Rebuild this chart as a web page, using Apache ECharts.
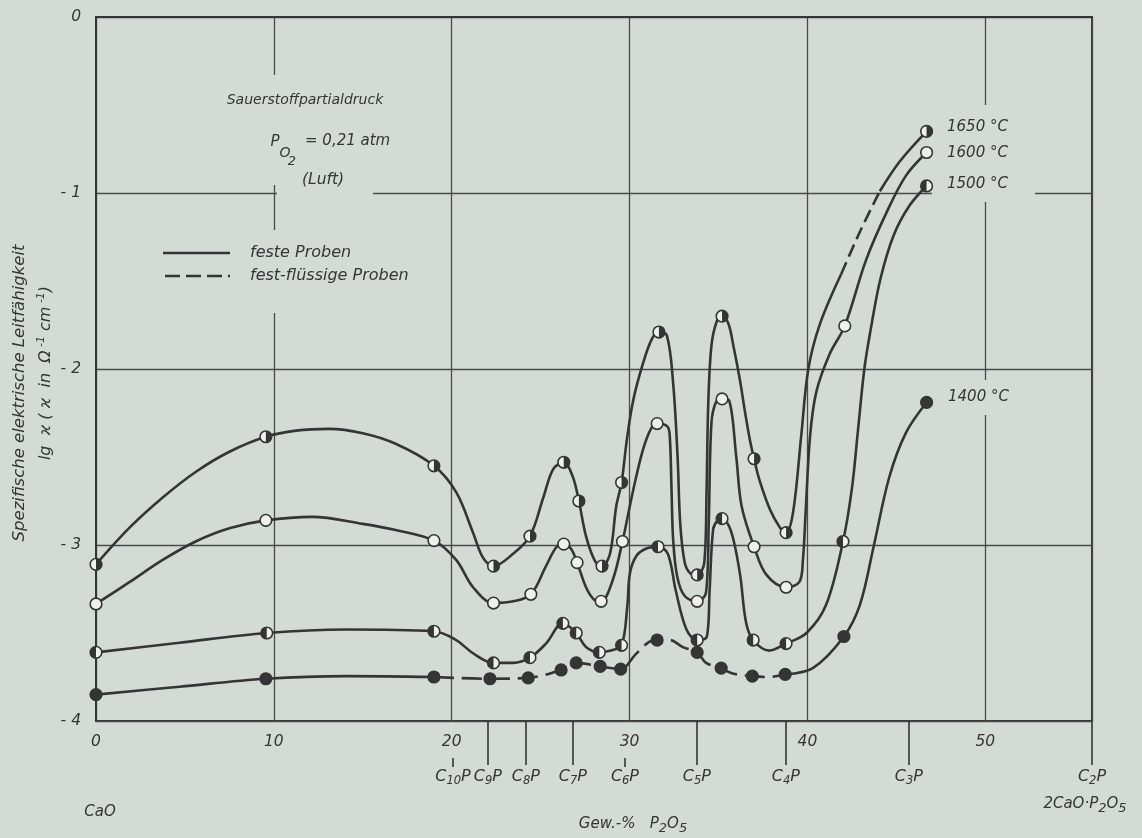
<!DOCTYPE html>
<html>
<head>
<meta charset="utf-8">
<script src="https://cdn.jsdelivr.net/npm/echarts@6/dist/echarts.min.js"></script>
<style>
  html, body { margin: 0; padding: 0; background: #d3dbd4; }
  #chart { width: 1142px; height: 838px; }
</style>
</head>
<body>
<div id="chart"></div>
<script>
// Messpunkte je Temperatur: [Gew.-% P2O5, lg kappa]
const punkte1650 = [[0, -3.11], [9.55, -2.385], [19.0, -2.55], [22.35, -3.12], [24.4, -2.95], [26.3, -2.53], [27.15, -2.75], [28.45, -3.12], [29.55, -2.645], [31.65, -1.79], [33.8, -3.17], [35.2, -1.70], [37.0, -2.51], [38.8, -2.93], [46.7, -0.65]];
const punkte1600 = [[0, -3.335], [9.55, -2.86], [19.0, -2.975], [22.35, -3.33], [24.45, -3.28], [26.3, -2.995], [27.05, -3.10], [28.4, -3.32], [29.6, -2.98], [31.55, -2.31], [33.8, -3.32], [35.2, -2.17], [37.0, -3.01], [38.8, -3.24], [42.1, -1.755], [46.7, -0.77]];
const punkte1500 = [[0, -3.61], [9.6, -3.50], [19.0, -3.49], [22.35, -3.67], [24.4, -3.64], [26.25, -3.445], [27.0, -3.50], [28.3, -3.61], [29.55, -3.57], [31.6, -3.01], [33.8, -3.54], [35.2, -2.85], [36.95, -3.54], [38.8, -3.56], [42.0, -2.98], [46.7, -0.96]];
const punkte1400 = [[0, -3.85], [9.55, -3.76], [19.0, -3.75], [22.15, -3.76], [24.3, -3.755], [26.15, -3.71], [27.0, -3.67], [28.35, -3.69], [29.5, -3.705], [31.55, -3.54], [33.8, -3.61], [35.15, -3.70], [36.9, -3.745], [38.75, -3.735], [42.05, -3.52], [46.7, -2.19]];

// Stützstellen des gezeichneten Kurvenverlaufs zwischen den Messpunkten
const verlauf1650 = [[1.9, -2.90], [3.75, -2.73], [5.6, -2.585], [7.5, -2.47], [11.25, -2.35], [13.1, -2.34], [15.0, -2.365], [16.85, -2.425], [20.25, -2.70], [21.2, -2.93], [21.75, -3.07], [23.45, -3.05], [25.15, -2.73], [25.7, -2.57], [26.8, -2.61], [27.55, -2.95], [28.05, -3.09], [28.9, -3.05], [29.25, -2.78], [29.85, -2.40], [30.2, -2.18], [30.75, -1.97], [31.25, -1.83], [32.1, -1.81], [32.45, -2.08], [32.7, -2.50], [32.85, -2.88], [33.1, -3.10], [33.4, -3.16], [34.2, -3.10], [34.33, -2.69], [34.42, -2.21], [34.6, -1.87], [34.9, -1.73], [35.55, -1.74], [35.85, -1.875], [36.2, -2.06], [36.5, -2.25], [36.76, -2.40], [37.3, -2.63], [37.9, -2.80], [38.45, -2.90], [39.2, -2.81], [39.65, -2.38], [40.05, -2.0], [40.7, -1.745], [41.9, -1.46], [42.95, -1.22], [44.07, -0.99], [45.2, -0.82]];
const verlauf1600 = [[1.9, -3.21], [3.75, -3.085], [5.6, -2.98], [7.5, -2.905], [12.15, -2.84], [15.0, -2.88], [16.85, -2.915], [20.25, -3.085], [21.2, -3.24], [23.45, -3.32], [25.3, -3.12], [25.9, -3.01], [26.7, -3.02], [27.55, -3.24], [28.0, -3.31], [29.05, -3.20], [30.2, -2.69], [30.75, -2.46], [31.2, -2.34], [32.15, -2.33], [32.27, -2.40], [32.36, -2.69], [32.45, -2.97], [32.68, -3.18], [33.1, -3.29], [34.3, -3.27], [34.45, -2.88], [34.6, -2.31], [34.85, -2.19], [35.6, -2.18], [36.0, -2.50], [36.3, -2.78], [37.7, -3.17], [39.55, -3.21], [39.75, -3.08], [39.9, -2.81], [40.15, -2.38], [40.5, -2.13], [41.25, -1.915], [43.3, -1.38], [44.45, -1.11], [45.55, -0.90]];
const verlauf1500 = [[4.7, -3.555], [14.05, -3.48], [20.25, -3.54], [21.2, -3.615], [23.45, -3.67], [25.3, -3.56], [27.55, -3.58], [28.95, -3.60], [29.87, -3.35], [30.02, -3.16], [30.4, -3.06], [30.95, -3.02], [32.15, -3.05], [32.6, -3.26], [33.2, -3.48], [34.35, -3.52], [34.5, -3.26], [34.7, -2.91], [34.95, -2.86], [35.7, -2.92], [36.2, -3.16], [36.55, -3.44], [37.85, -3.60], [39.95, -3.50], [41.05, -3.34], [42.5, -2.68], [42.85, -2.34], [43.2, -2.0], [43.55, -1.78], [44.1, -1.49], [44.85, -1.24], [45.75, -1.07]];
const verlauf1400 = [[4.7, -3.805], [14.05, -3.745], [30.35, -3.62], [31.1, -3.55], [32.25, -3.54], [33.0, -3.58], [34.3, -3.67], [35.8, -3.73], [37.85, -3.75], [40.3, -3.70], [42.95, -3.34], [43.7, -3.02], [44.6, -2.615], [45.55, -2.36]];

// fest-flüssige Bereiche (gestrichelt), von .. bis Gew.-% P2O5
const gestrichelt1650 = [41.9, 44.07];
const gestrichelt1400 = [19.0, 38.75];

// Achsen
const xWerte = [0, 10, 20, 30, 40, 50];
const yWerte = [0, -1, -2, -3, -4];
const verbindungsIndex = ['10', '9', '8', '7', '6', '5', '4', '3', '2'];
const verbindungsLage = [20.07, 22.03, 24.17, 26.81, 29.74, 33.78, 38.79, 45.70, 56.0];
const kurzeStriche = ['10', '6'];

const HINTERGRUND = '#d3dbd4';
const TINTE = '#353535';
const LINIE = '#4a4a4a';
const WEISS = '#eef1ec';
const SCHRIFT = "'DejaVu Sans', 'Liberation Sans', sans-serif";

const temperaturen = [
  { name: '1650 °C', punkte: punkte1650, verlauf: verlauf1650, strich: gestrichelt1650, muster: [13, 6], fuellung: 'rechts' },
  { name: '1600 °C', punkte: punkte1600, verlauf: verlauf1600, strich: null, muster: null, fuellung: 'offen' },
  { name: '1500 °C', punkte: punkte1500, verlauf: verlauf1500, strich: null, muster: null, fuellung: 'links' },
  { name: '1400 °C', punkte: punkte1400, verlauf: verlauf1400, strich: gestrichelt1400, muster: [20, 8], fuellung: 'voll' }
];

function kurve(punkte, verlauf) {
  return punkte.concat(verlauf).sort((a, b) => a[0] - b[0]);
}

function abschnitte(daten, strich) {
  if (!strich) return [{ daten, gestrichelt: false }];
  const [a, b] = strich;
  return [
    { daten: daten.filter(p => p[0] <= a), gestrichelt: false },
    { daten: daten.filter(p => p[0] >= a && p[0] <= b), gestrichelt: true },
    { daten: daten.filter(p => p[0] >= b), gestrichelt: false }
  ];
}

function markerSerie(t) {
  return {
    type: 'custom',
    name: t.name,
    z: 4,
    data: t.punkte,
    renderItem(params, api) {
      const p = api.coord([api.value(0), api.value(1)]);
      const r = 5.8;
      const kinder = [{
        type: 'circle',
        shape: { cx: p[0], cy: p[1], r },
        style: { fill: t.fuellung === 'voll' ? TINTE : WEISS, stroke: TINTE, lineWidth: 1.6 }
      }];
      if (t.fuellung === 'rechts' || t.fuellung === 'links') {
        const s = t.fuellung === 'rechts' ? -Math.PI / 2 : Math.PI / 2;
        kinder.push({
          type: 'sector',
          shape: { cx: p[0], cy: p[1], r: r, r0: 0, startAngle: s, endAngle: s + Math.PI, clockwise: true },
          style: { fill: TINTE }
        });
      }
      return { type: 'group', children: kinder };
    }
  };
}

const serien = [];
temperaturen.forEach(t => {
  abschnitte(kurve(t.punkte, t.verlauf), t.strich).forEach(ab => {
    serien.push({
      type: 'line',
      name: t.name,
      data: ab.daten,
      smooth: 0.35,
      showSymbol: false,
      silent: true,
      z: 2,
      lineStyle: { color: TINTE, width: 2.6, type: ab.gestrichelt ? t.muster : 'solid' }
    });
  });
  serien.push(markerSerie(t));
});

const txt = (extra) => Object.assign({ fill: TINTE, fontFamily: SCHRIFT, fontStyle: 'italic' }, extra);
const luecke = (x, y, w, h) => ({ type: 'rect', z: 1, shape: { x, y, width: w, height: h }, style: { fill: HINTERGRUND } });

const grafik = [
  // Aussparungen im Gitter hinter den Beschriftungen
  luecke(230, 75, 155, 110),
  luecke(277, 186, 96, 14),
  luecke(150, 230, 295, 83),
  luecke(932, 105, 103, 97),
  luecke(940, 380, 90, 35),

  // Angaben zur Atmosphäre
  { type: 'text', z: 10, x: 305, y: 100, style: txt({ text: 'Sauerstoffpartialdruck', fontSize: 14, align: 'center', verticalAlign: 'middle' }) },
  { type: 'text', z: 10, x: 275, y: 142, style: txt({ text: 'P', fontSize: 15, align: 'center', verticalAlign: 'middle' }) },
  { type: 'text', z: 10, x: 285, y: 153, style: txt({ text: 'O', fontSize: 14, align: 'center', verticalAlign: 'middle' }) },
  { type: 'text', z: 10, x: 292, y: 162, style: txt({ text: '2', fontSize: 13, align: 'center', verticalAlign: 'middle' }) },
  { type: 'text', z: 10, x: 305, y: 141, style: txt({ text: '= 0,21 atm', fontSize: 15, align: 'left', verticalAlign: 'middle' }) },
  { type: 'text', z: 10, x: 323, y: 180, style: txt({ text: '(Luft)', fontSize: 15.5, align: 'center', verticalAlign: 'middle' }) },

  // Legende
  { type: 'line', z: 10, shape: { x1: 163, y1: 253, x2: 230, y2: 253 }, style: { stroke: TINTE, lineWidth: 2.6 } },
  { type: 'line', z: 10, shape: { x1: 165, y1: 276, x2: 230, y2: 276 }, style: { stroke: TINTE, lineWidth: 2.6, lineDash: [15, 6] } },
  { type: 'text', z: 10, x: 250, y: 253, style: txt({ text: 'feste Proben', fontSize: 16, align: 'left', verticalAlign: 'middle' }) },
  { type: 'text', z: 10, x: 250, y: 276, style: txt({ text: 'fest-flüssige Proben', fontSize: 16, align: 'left', verticalAlign: 'middle' }) },

  // Temperaturbeschriftung an den Kurvenenden
  { type: 'text', z: 10, x: 947, y: 127, style: txt({ text: '1650 °C', fontSize: 15, align: 'left', verticalAlign: 'middle' }) },
  { type: 'text', z: 10, x: 947, y: 153, style: txt({ text: '1600 °C', fontSize: 15, align: 'left', verticalAlign: 'middle' }) },
  { type: 'text', z: 10, x: 947, y: 184, style: txt({ text: '1500 °C', fontSize: 15, align: 'left', verticalAlign: 'middle' }) },
  { type: 'text', z: 10, x: 948, y: 397, style: txt({ text: '1400 °C', fontSize: 15, align: 'left', verticalAlign: 'middle' }) },

  // Ordinatenbeschriftung
  { type: 'text', z: 10, x: 20, y: 393, rotation: Math.PI / 2, style: txt({ text: 'Spezifische elektrische Leitfähigkeit', fontSize: 16.5, align: 'center', verticalAlign: 'middle' }) },
  { type: 'text', z: 10, x: 45, y: 373, rotation: Math.PI / 2, style: txt({
      text: '{t|lg  ϰ ( ϰ  in  Ω}{h| -1}{t| cm}{h| -1}{t|)}',
      align: 'center', verticalAlign: 'middle',
      rich: {
        t: { fontSize: 16, fontStyle: 'italic', fontFamily: SCHRIFT, fill: TINTE, color: TINTE, lineHeight: 18, verticalAlign: 'bottom', padding: [7, 0, 0, 0] },
        h: { fontSize: 11, fontStyle: 'italic', fontFamily: SCHRIFT, fill: TINTE, color: TINTE, lineHeight: 12, verticalAlign: 'top' }
      }
    }) },

  // Abszissenbeschriftung
  { type: 'text', z: 10, x: 100, y: 812, style: txt({ text: 'CaO', fontSize: 15, align: 'center', verticalAlign: 'middle' }) },
  { type: 'text', z: 10, x: 633, y: 826, style: txt({
      text: '{t|Gew.-%   P}{u|2}{t|O}{u|5}',
      align: 'center', verticalAlign: 'middle',
      rich: {
        t: { fontSize: 15, fontStyle: 'italic', fontFamily: SCHRIFT, fill: TINTE, color: TINTE, lineHeight: 18, verticalAlign: 'top' },
        u: { fontSize: 13, fontStyle: 'italic', fontFamily: SCHRIFT, fill: TINTE, color: TINTE, lineHeight: 14, verticalAlign: 'bottom', padding: [8, 0, 0, 0] }
      }
    }) },
  { type: 'text', z: 10, x: 1085, y: 806, style: txt({
      text: '{t|2CaO·P}{u|2}{t|O}{u|5}',
      align: 'center', verticalAlign: 'middle',
      rich: {
        t: { fontSize: 15, fontStyle: 'italic', fontFamily: SCHRIFT, fill: TINTE, color: TINTE, lineHeight: 18, verticalAlign: 'top' },
        u: { fontSize: 13, fontStyle: 'italic', fontFamily: SCHRIFT, fill: TINTE, color: TINTE, lineHeight: 14, verticalAlign: 'bottom', padding: [8, 0, 0, 0] }
      }
    }) }
];

const beschriftung = { color: TINTE, fontFamily: SCHRIFT, fontStyle: 'italic', fontSize: 15.5 };

function naechsteVerbindung(v) {
  let best = 0;
  verbindungsLage.forEach((x, i) => { if (Math.abs(x - v) < Math.abs(verbindungsLage[best] - v)) best = i; });
  return best;
}

const langeLage = verbindungsLage.filter((x, i) => !kurzeStriche.includes(verbindungsIndex[i]));
const kurzeLage = verbindungsLage.filter((x, i) => kurzeStriche.includes(verbindungsIndex[i]));

const option = {
  backgroundColor: HINTERGRUND,
  animation: false,
  grid: { left: 96, right: 50, top: 17, bottom: 117, show: true, borderColor: TINTE, borderWidth: 2, backgroundColor: 'transparent' },
  xAxis: [
    {
      type: 'value', min: 0, max: 56, interval: 10,
      axisLine: { show: true, lineStyle: { color: TINTE, width: 2 } },
      axisTick: { show: false },
      splitLine: { show: true, lineStyle: { color: LINIE, width: 1.3 } },
      axisLabel: Object.assign({ margin: 13, showMaxLabel: false,
        formatter: v => (xWerte.includes(v) ? String(v) : '') }, beschriftung)
    },
    {
      type: 'value', min: 0, max: 56, position: 'bottom',
      axisLine: { show: false },
      splitLine: { show: false },
      axisTick: { show: true, customValues: langeLage, length: 44, lineStyle: { color: TINTE, width: 1.6 } },
      axisLabel: {
        show: true, customValues: verbindungsLage, margin: 48, showMaxLabel: true, showMinLabel: true,
        formatter: v => '{c|C}{s|' + verbindungsIndex[naechsteVerbindung(v)] + '}{c|P}',
        rich: {
          c: { fontSize: 16, fontStyle: 'italic', fontFamily: SCHRIFT, color: TINTE, lineHeight: 18, verticalAlign: 'top' },
          s: { fontSize: 11.5, fontStyle: 'italic', fontFamily: SCHRIFT, color: TINTE, lineHeight: 13, verticalAlign: 'bottom', padding: [12, 0, 0, 0] }
        }
      }
    },
    {
      type: 'value', min: 0, max: 56, position: 'bottom', offset: 37,
      axisLine: { show: false },
      splitLine: { show: false },
      axisTick: { show: true, customValues: kurzeLage, length: 9, lineStyle: { color: TINTE, width: 1.6 } },
      axisLabel: { show: false }
    }
  ],
  yAxis: {
    type: 'value', min: -4, max: 0, interval: 1,
    axisLine: { show: true, lineStyle: { color: TINTE, width: 2 } },
    axisTick: { show: false },
    splitLine: { show: true, lineStyle: { color: LINIE, width: 1.3 } },
    axisLabel: Object.assign({ margin: 15,
      formatter: v => (yWerte.includes(v) ? (v === 0 ? '0' : '- ' + Math.abs(v)) : '') }, beschriftung)
  },
  graphic: { elements: grafik },
  series: serien
};

const chart = echarts.init(document.getElementById('chart'), null, { renderer: 'canvas' });
chart.setOption(option);
</script>
</body>
</html>
